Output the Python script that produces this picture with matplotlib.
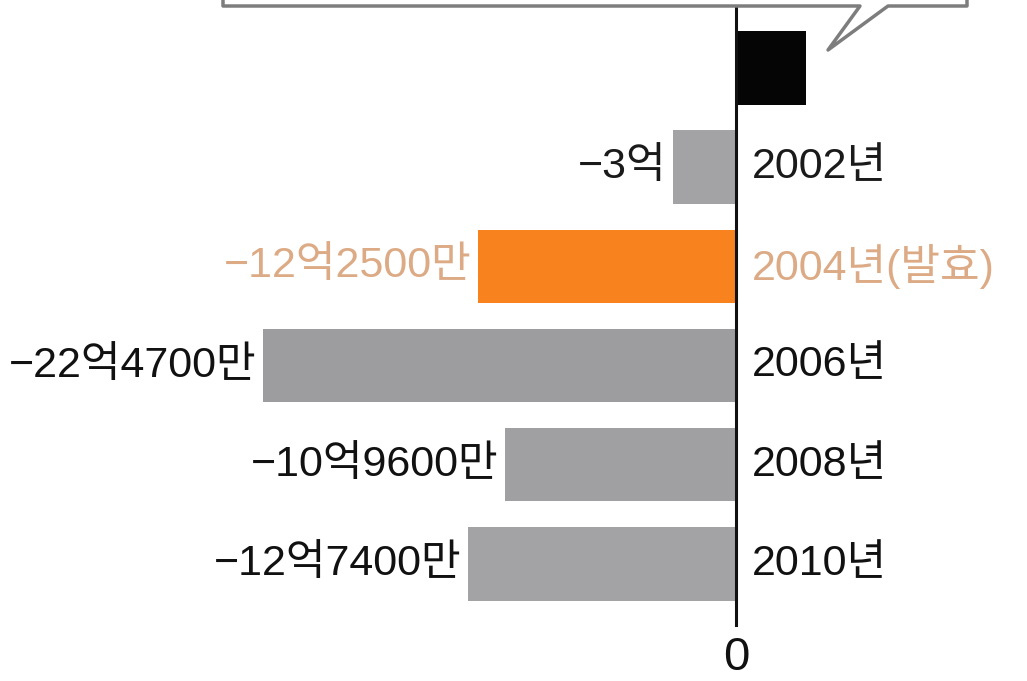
import matplotlib.pyplot as plt
from matplotlib.lines import Line2D

# 단위: 억 원
years = ['', '2002년', '2004년(발효)', '2006년', '2008년', '2010년']
values = [3.3, -3.0, -12.25, -22.47, -10.96, -12.74]
value_labels = ['', '−3억', '−12억2500만', '−22억4700만', '−10억9600만', '−12억7400만']
bar_colors = ['#050505', '#a3a3a5', '#f7821e', '#9d9d9f', '#a0a0a2', '#a3a3a5']
text_colors = ['#111111', '#1a1a1a', '#dcab86', '#111111', '#111111', '#111111']

plt.rcParams['font.family'] = ['Liberation Sans', 'Noto Sans CJK KR', 'DejaVu Sans']
FS = 31

fig = plt.figure(figsize=(10.27, 6.81), dpi=100)
ax = fig.add_axes([0, 0, 1, 1])
ax.set_xlim(-34.96, 13.82)
ax.set_ylim(6.18, -0.685)
ax.axis('off')

pos = list(range(len(values)))
ax.barh(pos, values, height=0.74, color=bar_colors, zorder=2)

# 기준선과 0 표시
ax.plot([0, 0], [-0.6, 5.62], color='#111111', lw=2.2, zorder=3)
ax.text(0, 5.95, '0', ha='center', va='center', fontsize=FS + 3, color='#111111')

for i, v in enumerate(values):
    if value_labels[i]:
        ax.text(v - 0.3, i, value_labels[i], ha='right', va='center',
                fontsize=FS, color=text_colors[i])
    if years[i]:
        ax.text(0.75, i, years[i], ha='left', va='center',
                fontsize=FS, color=text_colors[i])

# 말풍선 아래쪽 테두리
W, H = 1027, 681
bx = [223, 223, 860, 828, 888, 967, 967]
by = [0, 6, 6, 50, 6, 6, 0]
fig.add_artist(Line2D([x / W for x in bx], [1 - y / H for y in by],
                      color='#7d7d7d', lw=2.5, transform=fig.transFigure))

fig.savefig('out.png', dpi=100)
